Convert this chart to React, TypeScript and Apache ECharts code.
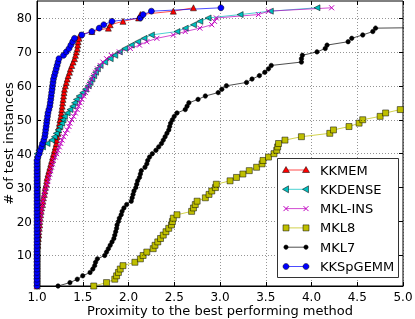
import React, { useEffect, useRef } from "react";
import * as echarts from "echarts";

const yTicks = [10, 20, 30, 40, 50, 60, 70, 80];
const seriesNames = ["KKMEM", "KKDENSE", "MKL-INS", "MKL8", "MKL7", "KKSpGEMM"];

// Performance-profile ratios, sorted; instance count = position (1-based)
const ratioKKMEM = [
  1.0, 1.0, 1.0, 1.0, 1.0, 1.0, 1.0, 1.0, 1.0, 1.0, 1.0, 1.0,
  1.01, 1.01, 1.015, 1.02, 1.02, 1.025, 1.03, 1.03, 1.035, 1.04, 1.045, 1.05, 1.06, 1.065, 1.07, 1.08,
  1.085, 1.09, 1.1, 1.105, 1.11, 1.12, 1.13, 1.14, 1.15, 1.16, 1.17, 1.18, 1.19, 1.2, 1.21, 1.215,
  1.22, 1.23, 1.235, 1.24, 1.245, 1.25, 1.26, 1.265, 1.27, 1.275, 1.28, 1.285, 1.29, 1.295, 1.3, 1.31,
  1.32, 1.33, 1.34, 1.355, 1.365, 1.38, 1.395, 1.41, 1.42, 1.43, 1.44, 1.445, 1.45, 1.46, 1.47,
  1.6, 1.78, 1.8, 1.94, 2.11, 2.13, 2.49, 2.71,
];
const ratioKKDENSE = [
  1.0, 1.0, 1.0, 1.0, 1.0, 1.0, 1.0, 1.0, 1.0, 1.0, 1.0, 1.0, 1.0, 1.0, 1.0, 1.0, 1.0, 1.0, 1.0, 1.0,
  1.0, 1.0, 1.0, 1.0, 1.0, 1.0, 1.0, 1.0, 1.0, 1.0, 1.0, 1.0, 1.0, 1.0, 1.0, 1.0, 1.0, 1.0, 1.0, 1.0,
  1.02, 1.06, 1.11, 1.16, 1.19, 1.21, 1.23, 1.25, 1.27, 1.285, 1.3, 1.33, 1.36, 1.39, 1.41, 1.43,
  1.46, 1.5, 1.53, 1.56, 1.58, 1.6, 1.62, 1.64, 1.66, 1.69, 1.74, 1.8, 1.85, 1.9, 1.96, 2.03, 2.1,
  2.17, 2.25, 2.53, 2.62, 2.71, 2.78, 2.87, 3.22, 3.55, 4.06,
];
const ratioMKLINS = [
  1.0, 1.0, 1.0, 1.0, 1.0, 1.0, 1.0, 1.0, 1.0, 1.0, 1.0, 1.0, 1.0, 1.0,
  1.005, 1.01, 1.015, 1.02, 1.025, 1.03, 1.035, 1.04, 1.045, 1.05, 1.06, 1.065, 1.07, 1.08, 1.09, 1.1,
  1.11, 1.12, 1.13, 1.14, 1.15, 1.16, 1.17, 1.18, 1.2, 1.215, 1.23, 1.245, 1.26, 1.275, 1.29, 1.31,
  1.33, 1.35, 1.36, 1.38, 1.4, 1.42, 1.44, 1.455, 1.47, 1.49, 1.51, 1.53, 1.55, 1.565, 1.58, 1.6,
  1.62, 1.64, 1.66, 1.69, 1.72, 1.76, 1.81, 1.9, 2.02, 2.12, 2.2, 2.31, 2.49, 2.62, 2.78, 2.91,
  2.94, 2.96, 3.42, 3.53, 4.22,
];
const ratioMKL8 = [
  1.62, 1.76, 1.85, 1.87, 1.89, 1.91, 1.94, 2.07, 2.13, 2.16, 2.2, 2.27, 2.29, 2.32, 2.35, 2.38, 2.41,
  2.44, 2.47, 2.48, 2.49, 2.53, 2.69, 2.71, 2.73, 2.75, 2.84, 2.88, 2.91, 2.95, 2.96, 3.11, 3.18, 3.25,
  3.32, 3.4, 3.46, 3.47, 3.53, 3.59, 3.62, 3.63, 3.64, 3.71, 3.89, 4.2, 4.24, 4.41, 4.52, 4.56, 4.75,
  4.81, 4.97,
];
const tailMKL8 = [5.3, 54];
const ratioMKL7 = [
  1.23, 1.36, 1.44, 1.5, 1.58, 1.61, 1.63, 1.64, 1.66, 1.74, 1.76, 1.78, 1.8, 1.82, 1.84, 1.85, 1.86,
  1.87, 1.875, 1.89, 1.9, 1.92, 1.93, 1.95, 1.98, 2.03, 2.04, 2.05, 2.06, 2.08, 2.09, 2.1, 2.12, 2.13,
  2.14, 2.18, 2.2, 2.21, 2.23, 2.26, 2.3, 2.33, 2.36, 2.38, 2.4, 2.42, 2.44, 2.45, 2.46, 2.48, 2.5,
  2.53, 2.62, 2.64, 2.66, 2.76, 2.84, 2.98, 3.02, 3.07, 3.29, 3.35, 3.43, 3.49, 3.53, 3.56, 3.89, 3.89,
  3.9, 4.06, 4.15, 4.17, 4.4, 4.44, 4.56, 4.67, 4.7,
];
const tailMKL7 = [8, 78];
const ratioKKSpGEMM = [
  1.0, 1.0, 1.0, 1.0, 1.0, 1.0, 1.0, 1.0, 1.0, 1.0, 1.0, 1.0, 1.0, 1.0, 1.0, 1.0, 1.0, 1.0, 1.0, 1.0,
  1.0, 1.0, 1.0, 1.0, 1.0, 1.0, 1.0, 1.0, 1.0, 1.0, 1.0, 1.0, 1.0, 1.0, 1.0, 1.0, 1.0, 1.0,
  1.01, 1.025, 1.035, 1.05, 1.06, 1.075, 1.085, 1.09, 1.095, 1.1, 1.105, 1.11, 1.115, 1.12, 1.13,
  1.14, 1.145, 1.15, 1.155, 1.16, 1.165, 1.17, 1.175, 1.18, 1.19, 1.2, 1.21, 1.22, 1.23, 1.24, 1.29,
  1.32, 1.35, 1.37, 1.39, 1.41, 1.49, 1.6, 1.68, 1.73, 1.82, 2.13, 2.16, 2.25, 3.01,
];

const FONT = "DejaVu Sans";
const colors = ["#ff0000", "#00bfbf", "#bf00bf", "#bfbf00", "#000000", "#0000ff"];

function toPoints(ratios: number[], tail?: number[]) {
  const pts: any[] = ratios.map((r, i) => [r, i + 1]);
  if (tail) pts.push({ value: tail, symbol: "none" });
  return pts;
}

export default function App() {
  const ref = useRef<HTMLDivElement>(null);
  useEffect(() => {
    if (!ref.current) return;
    const chart = echarts.init(ref.current, null, { renderer: "svg" });
    const gridLine = { color: "#000", type: [1, 2] as any, width: 0.6, opacity: 0.7 };
    const mkSeries = (i: number, data: any[], symbol: string, size: number, extra: any = {}) => ({
      name: seriesNames[i],
      type: "line",
      data,
      symbol,
      symbolSize: size,
      showAllSymbol: true,
      clip: true,
      lineStyle: { color: colors[i], width: 1, opacity: 0.7 },
      itemStyle: { color: colors[i], borderColor: "#000", borderWidth: 0.5 },
      emphasis: { disabled: true },
      ...extra,
    });
    const legendX0 = 277.5;
    const legendY0 = 158.5;
    const rowY = (k: number) => 170 + k * 19.3;
    const lx1 = 286;
    const lx2 = 306;
    const legendEls: any[] = [
      {
        type: "rect",
        shape: { x: legendX0, y: legendY0, width: 121, height: 119 },
        style: { fill: "#fff", stroke: "#333", lineWidth: 1 },
        z: 100,
      },
    ];
    const marker = (k: number, cx: number, cy: number): any[] => {
      const c = colors[k];
      const edge = { stroke: "#000", lineWidth: 0.5 };
      if (k === 0)
        return [{ type: "polygon", shape: { points: [[cx, cy - 3.5], [cx - 3.5, cy + 2.5], [cx + 3.5, cy + 2.5]] }, style: { fill: c, ...edge }, z: 102 }];
      if (k === 1)
        return [{ type: "polygon", shape: { points: [[cx - 3.5, cy], [cx + 2.5, cy - 3.5], [cx + 2.5, cy + 3.5]] }, style: { fill: c, ...edge }, z: 102 }];
      if (k === 2)
        return [
          { type: "line", shape: { x1: cx - 2.5, y1: cy - 2.5, x2: cx + 2.5, y2: cy + 2.5 }, style: { stroke: c, lineWidth: 1 }, z: 102 },
          { type: "line", shape: { x1: cx - 2.5, y1: cy + 2.5, x2: cx + 2.5, y2: cy - 2.5 }, style: { stroke: c, lineWidth: 1 }, z: 102 },
        ];
      if (k === 3)
        return [{ type: "rect", shape: { x: cx - 3, y: cy - 3, width: 6, height: 6 }, style: { fill: c, ...edge }, z: 102 }];
      if (k === 4) return [{ type: "circle", shape: { cx, cy, r: 2.2 }, style: { fill: c, ...edge }, z: 102 }];
      return [{ type: "circle", shape: { cx, cy, r: 3 }, style: { fill: c, ...edge }, z: 102 }];
    };
    seriesNames.forEach((n, k) => {
      const cy = rowY(k);
      legendEls.push({
        type: "line",
        shape: { x1: lx1, y1: cy, x2: lx2, y2: cy },
        style: { stroke: colors[k], lineWidth: 1, opacity: 0.7 },
        z: 101,
      });
      legendEls.push(...marker(k, lx1, cy), ...marker(k, lx2, cy));
      legendEls.push({
        type: "text",
        x: 320,
        y: cy,
        style: { text: n, font: `13px "${FONT}"`, fill: "#000", verticalAlign: "middle", align: "left" },
        z: 102,
      });
    });

    const option: any = {
      animation: false,
      textStyle: { fontFamily: FONT },
      grid: {
        left: 37, right: 12, top: 1, bottom: 33, show: true, borderColor: "#000", borderWidth: 1,
        backgroundColor: "transparent", containLabel: false, outerBoundsMode: "none",
      },
      xAxis: [
        {
          type: "value",
          min: 1,
          max: 5,
          interval: 0.5,
          axisLine: { show: true, lineStyle: { color: "#000", width: 1 } },
          axisTick: { inside: true, length: 4, lineStyle: { color: "#000" } },
          axisLabel: { color: "#000", fontFamily: FONT, fontSize: 12, margin: 5, formatter: (v: number) => v.toFixed(1) },
          splitLine: { show: true, lineStyle: gridLine },
          name: "Proximity to the best performing method",
          nameLocation: "middle",
          nameGap: 18,
          nameMoveOverlap: false,
          nameTextStyle: { color: "#000", fontFamily: FONT, fontSize: 13, verticalAlign: "top" },
        },
        {
          type: "value",
          position: "top",
          min: 1,
          max: 5,
          interval: 0.5,
          axisLine: { show: false },
          axisTick: { inside: true, length: 4, lineStyle: { color: "#000" } },
          axisLabel: { show: false },
          splitLine: { show: false },
        },
      ],
      yAxis: [
        {
          type: "value",
          min: 1,
          max: 85,
          axisLine: { show: true, lineStyle: { color: "#000", width: 1 } },
          axisTick: { inside: true, length: 4, customValues: yTicks, lineStyle: { color: "#000" } },
          axisLabel: { color: "#000", fontFamily: FONT, fontSize: 12, margin: 5, customValues: yTicks },
          splitLine: { show: false },
          name: "# of test instances",
          nameLocation: "middle",
          nameGap: 22,
          nameMoveOverlap: false,
          nameRotate: 90,
          nameTextStyle: { color: "#000", fontFamily: FONT, fontSize: 13, verticalAlign: "bottom" },
        },
        {
          type: "value",
          position: "right",
          min: 1,
          max: 85,
          axisLine: { show: false },
          axisTick: { inside: true, length: 4, customValues: yTicks, lineStyle: { color: "#000" } },
          axisLabel: { show: false },
          splitLine: { show: false },
        },
      ],
      series: [
        mkSeries(0, toPoints(ratioKKMEM), "triangle", 6, {
          markLine: {
            silent: true,
            symbol: "none",
            label: { show: false },
            lineStyle: gridLine,
            emphasis: { disabled: true },
            data: yTicks.map((v) => ({ yAxis: v })),
          },
        }),
        mkSeries(1, toPoints(ratioKKDENSE), "triangle", 6, { symbolRotate: 90 }),
        mkSeries(2, toPoints(ratioMKLINS), "path://M0,0L10,10M10,0L0,10", 5, {
          itemStyle: { color: colors[2], borderColor: colors[2], borderWidth: 1 },
        }),
        mkSeries(3, toPoints(ratioMKL8, tailMKL8), "rect", 6),
        mkSeries(4, toPoints(ratioMKL7, tailMKL7), "circle", 4.5),
        mkSeries(5, toPoints(ratioKKSpGEMM), "circle", 6),
      ],
      graphic: legendEls,
    };
    chart.setOption(option);
    return () => chart.dispose();
  }, []);
  return <div ref={ref} style={{ position: "fixed", left: 0, top: 0, width: 415, height: 319 }} />;
}
